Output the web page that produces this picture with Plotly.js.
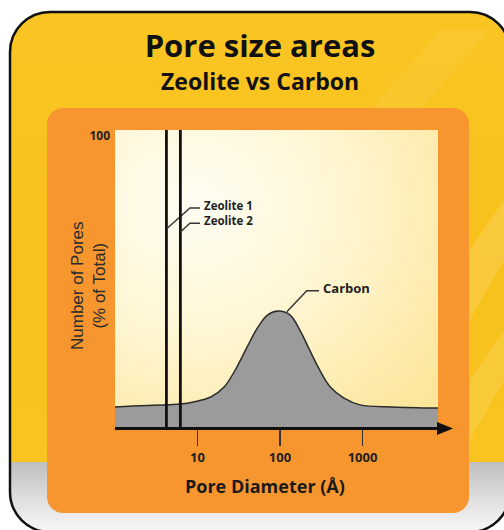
<!DOCTYPE html>
<html>
<head>
<meta charset="utf-8">
<script src="https://cdn.plot.ly/plotly-3.0.1.min.js"></script>
<style>html,body{margin:0;padding:0;background:#fff;}#chart{width:504px;height:530px;}</style>
</head>
<body>
<div id="chart"></div>
<script>
// ---- data ----
const poreDiameter = [1.0, 4.2, 6.2, 8.9, 14.5, 21, 30, 40, 54, 71, 95, 132, 174, 229, 302, 407, 589, 933, 2344, 8220];
const carbonPct    = [6.9, 7.6, 7.9, 8.6, 10.3, 13.7, 20.6, 27.5, 34.3, 38.5, 39.8, 38.5, 33.3, 26.4, 19.6, 13.7, 10.0, 7.6, 6.9, 6.5];
const zeoliteNames = ['Zeolite 1', 'Zeolite 2'];
const zeolitePore  = [4.2, 6.2];
const zeoliteTop   = [102, 102];
const xTickVals    = [10, 100, 1000];
const xTickText    = ['10', '100', '1000'];
const yTickVals    = [100];
const yTickText    = ['100'];
// label anchors (Å, %)
const zeoLeaderStartY = [68, 67];
const zeoLeaderElbowX = [8.1, 8.1];
const zeoLeaderEndX   = [10.7, 10.7];
const zeoLeaderY      = [75.2, 70.0];
const zeoLabelX       = 11.6;
const carbonLeaderX   = [121, 211, 297];
const carbonLeaderY   = [39.6, 46.8, 46.8];
const carbonLabelX    = 315;
const carbonLabelY    = 47.6;

// ---- background artwork (gradients) ----
const bgSvg = `<svg xmlns='http://www.w3.org/2000/svg' width='504' height='530' viewBox='0 0 504 530'>
<defs>
<linearGradient id='y' x1='0' y1='0' x2='0' y2='1'>
<stop offset='0' stop-color='#FAC523'/>
<stop offset='0.5' stop-color='#F8C11B'/>
<stop offset='0.865' stop-color='#F9C41F'/>
<stop offset='0.866' stop-color='#BEBEBE'/>
<stop offset='0.93' stop-color='#DCDCDC'/>
<stop offset='1' stop-color='#F7F7F7'/>
</linearGradient>
<radialGradient id='p' cx='0.25' cy='0.25' r='0.95'>
<stop offset='0' stop-color='#FFFDF3'/>
<stop offset='0.45' stop-color='#FFF6D4'/>
<stop offset='1' stop-color='#FCE69C'/>
</radialGradient>
</defs>
<rect x='10' y='12' width='500' height='520' rx='40' ry='40' fill='url(#y)'/>
<polygon points='470,250 504,200 504,260 470,320' fill='#ffffff' fill-opacity='0.14'/>
<polygon points='470,380 504,330 504,380 470,440' fill='#ffffff' fill-opacity='0.12'/>
<polygon points='440,30 490,30 420,110 370,110' fill='#ffffff' fill-opacity='0.05'/>
<rect x='10' y='12' width='500' height='520' rx='40' ry='40' fill='none' stroke='#111' stroke-width='2.5'/>
<rect x='47' y='108' width='422' height='405' rx='16' ry='16' fill='#F7962F'/>
<rect x='115' y='130' width='323' height='297' fill='url(#p)'/>
</svg>`;
const bgSrc = 'data:image/svg+xml;charset=utf-8,' + encodeURIComponent(bgSvg);

const W = 504, H = 530, ML = 115, MR = 66, MT = 130, MB = 103;
const PW = W - ML - MR, PH = H - MT - MB;
const px = v => (v - ML) / PW;          // page px -> paper x
const py = v => (H - MB - v) / PH;      // page px -> paper y

const traces = [];
traces.push({
  x: poreDiameter, y: carbonPct, type: 'scatter', mode: 'lines',
  line: {color: '#2b2b2b', width: 1.5, shape: 'spline', smoothing: 1},
  fill: 'tozeroy', fillcolor: '#9B9B9B', name: 'Carbon', hoverinfo: 'x+y'
});
zeolitePore.forEach((p, i) => {
  traces.push({
    x: [p, p], y: [0, zeoliteTop[i]], type: 'scatter', mode: 'lines',
    line: {color: '#111', width: 2.8}, name: zeoliteNames[i]
  });
  traces.push({
    x: [p, zeoLeaderElbowX[i], zeoLeaderEndX[i]],
    y: [zeoLeaderStartY[i], zeoLeaderY[i], zeoLeaderY[i]],
    type: 'scatter', mode: 'lines', line: {color: '#333', width: 1.4},
    hoverinfo: 'skip', name: zeoliteNames[i] + ' label'
  });
});
traces.push({
  x: carbonLeaderX, y: carbonLeaderY, type: 'scatter', mode: 'lines',
  line: {color: '#333', width: 1.4}, hoverinfo: 'skip', name: 'Carbon label'
});

const labelFont = {family: 'Open Sans, sans-serif', size: 11.5, color: '#1e1e1e', weight: 'bold'};
const annotations = [{
  x: Math.log10(zeoLabelX), y: (zeoLeaderY[0] + zeoLeaderY[1]) / 2 + 0.9, xref: 'x', yref: 'y',
  text: zeoliteNames.join('<br>'), showarrow: false, xanchor: 'left', yanchor: 'middle',
  align: 'left', font: labelFont, borderpad: 0
}];
annotations.push({
  x: Math.log10(carbonLabelX), y: carbonLabelY, xref: 'x', yref: 'y',
  text: 'Carbon', showarrow: false, xanchor: 'left', yanchor: 'middle',
  font: Object.assign({}, labelFont, {size: 13})
});
annotations.push({
  x: px(260), y: py(81), xref: 'paper', yref: 'paper', text: 'Zeolite vs Carbon',
  showarrow: false, xanchor: 'center', yanchor: 'middle',
  font: {family: 'Open Sans, sans-serif', size: 23, color: '#111', weight: 'bold'}
});
annotations.push({
  x: px(265), y: py(486), xref: 'paper', yref: 'paper', text: 'Pore Diameter (Å)',
  showarrow: false, xanchor: 'center', yanchor: 'middle',
  font: {family: 'Open Sans, sans-serif', size: 18, color: '#1a1a1a', weight: 'bold'}
});
annotations.push({
  x: px(88), y: py(286), xref: 'paper', yref: 'paper', text: 'Number of Pores<br>(% of Total)',
  showarrow: false, xanchor: 'center', yanchor: 'middle', textangle: -90,
  font: {family: 'Liberation Sans, Arial, sans-serif', size: 17, color: '#2a2a2a'}
});

const layout = {
  width: W, height: H,
  margin: {l: ML, r: MR, t: MT, b: MB, pad: 0},
  paper_bgcolor: '#ffffff', plot_bgcolor: 'rgba(0,0,0,0)',
  showlegend: false,
  title: {
    text: 'Pore size areas', x: 260 / W, xanchor: 'center', y: 1 - 46 / H, yanchor: 'middle',
    yref: 'container', xref: 'container',
    font: {family: 'Open Sans, sans-serif', size: 31, color: '#111', weight: 'bold'}
  },
  xaxis: {
    type: 'log', range: [0, Math.log10(8220)],
    tickvals: xTickVals, ticktext: xTickText,
    ticks: 'outside', ticklen: 16, tickwidth: 1.5, tickcolor: '#333',
    showline: true, linewidth: 3, linecolor: '#111',
    showgrid: false, zeroline: false, fixedrange: true,
    tickfont: {family: 'Open Sans, sans-serif', size: 13, color: '#1e1e1e', weight: 'bold'}
  },
  yaxis: {
    range: [0, 102], tickvals: yTickVals, ticktext: yTickText,
    ticks: '', showline: false, showgrid: false, zeroline: false, fixedrange: true,
    ticklabelstandoff: 4,
    tickfont: {family: 'Open Sans, sans-serif', size: 12, color: '#1e1e1e', weight: 'bold'}
  },
  images: [{
    source: bgSrc, xref: 'paper', yref: 'paper',
    x: px(0), y: py(0), sizex: W / PW, sizey: H / PH,
    xanchor: 'left', yanchor: 'top', sizing: 'stretch', layer: 'below'
  }],
  shapes: [
    {type: 'line', xref: 'paper', yref: 'paper', x0: 0.99, x1: px(440), y0: py(428.5), y1: py(428.5),
     line: {color: '#111', width: 3}},
    {type: 'path', xref: 'paper', yref: 'paper',
     path: `M ${px(437)} ${py(422)} L ${px(453)} ${py(428.5)} L ${px(437)} ${py(435)} Z`,
     fillcolor: '#111', line: {width: 0}}
  ],
  annotations: annotations
};

Plotly.newPlot('chart', traces, layout, {displayModeBar: false, staticPlot: true});
</script>
</body>
</html>
